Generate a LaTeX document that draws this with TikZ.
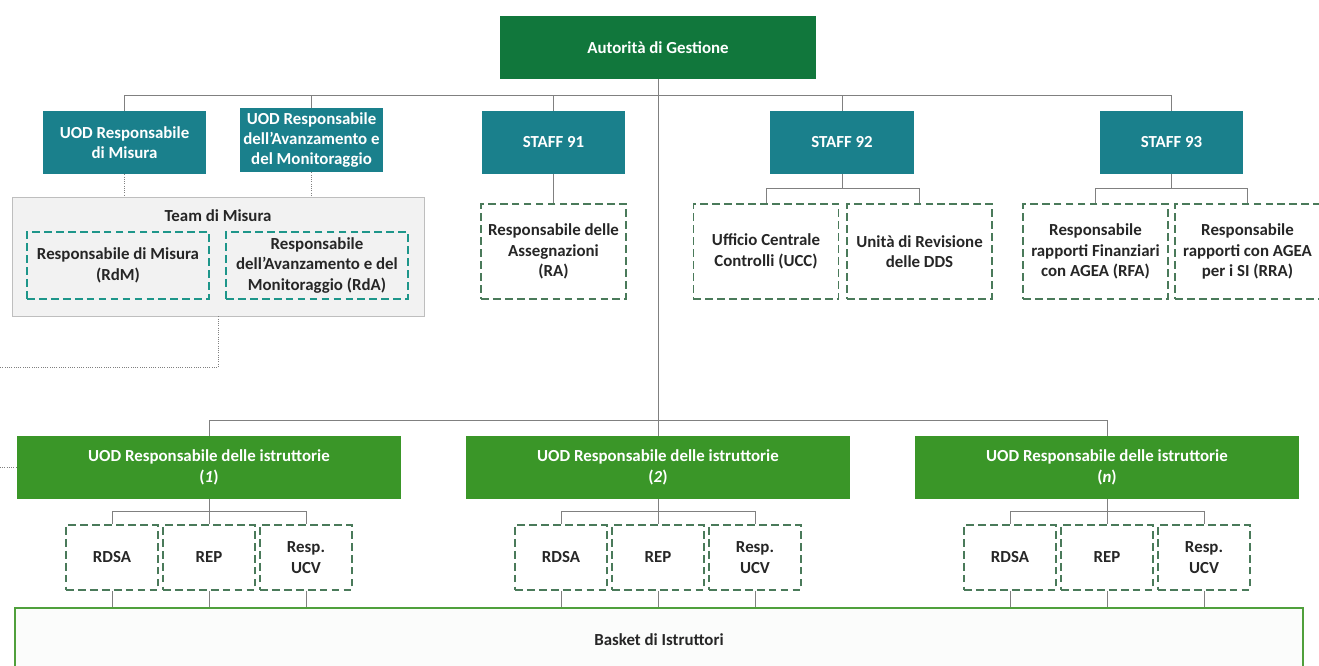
\documentclass[tikz,border=0pt]{standalone}
\usepackage{fontspec}
\setmainfont{Carlito}
\usetikzlibrary{positioning}
\definecolor{agGreen}{RGB}{17,119,60}
\definecolor{uodTeal}{RGB}{26,128,140}
\definecolor{istrGreen}{RGB}{58,150,40}
\definecolor{staffDash}{RGB}{74,122,90}
\definecolor{teamDash}{RGB}{30,150,138}
\definecolor{teamFill}{RGB}{242,242,242}
\definecolor{teamGray}{RGB}{190,190,190}
\definecolor{basketGreen}{RGB}{80,160,60}
\definecolor{basketFill}{RGB}{251,252,251}
\definecolor{linkGray}{RGB}{128,128,128}
\definecolor{txtDark}{RGB}{38,38,38}

\begin{document}
\begin{tikzpicture}[x=0.025cm, y=-0.025cm,
    font=\bfseries\fontsize{12}{14.5}\selectfont, text=txtDark,
    boss/.style={fill=agGreen, text=white, minimum width=7.875cm, minimum height=1.575cm},
    uodbox/.style={fill=uodTeal, text=white, align=center, inner sep=2pt, minimum width=3.575cm, minimum height=1.575cm},
    teambox/.style={draw=teamGray, fill=teamFill, minimum width=10.3cm, minimum height=2.975cm},
    dashbox/.style={line width=1.2pt, dash pattern=on 5.5pt off 3pt, align=center, inner sep=2pt},
    teamdash/.style={dashbox, draw=teamDash, minimum width=4.55cm, minimum height=1.675cm},
    staffdash/.style={dashbox, draw=staffDash, minimum width=3.625cm, minimum height=2.375cm},
    istrbox/.style={fill=istrGreen, text=white, align=center, inner sep=2pt, minimum width=9.6cm, minimum height=1.575cm},
    istrdash/.style={dashbox, draw=staffDash, minimum width=2.3cm, minimum height=1.625cm},
    basketbox/.style={draw=basketGreen, line width=1.2pt, fill=basketFill, minimum width=32.2cm, minimum height=1.6cm},
    link/.style={draw=linkGray, line width=0.6pt},
    dotlink/.style={draw=linkGray, line width=0.6pt, densely dotted}]
  \useasboundingbox (0,0) rectangle (1319,665);

  % vertice
  \node[boss] (adg) at (658,47.5) {Autorità di Gestione};

  % UOD e staff
  \node[uodbox, minimum width=4.075cm] (uodmis) at (124.5,142.5) {UOD Responsabile\\di Misura};
  \node[uodbox, minimum height=1.6cm] (uodavz) at (311.5,140) {UOD Responsabile\\dell’Avanzamento e\\del Monitoraggio};
  \node[uodbox] (staff91) at (553.5,142.5) {STAFF 91};
  \node[uodbox] (staff92) at (842,142.5) {STAFF 92};
  \node[uodbox] (staff93) at (1171.5,142.5) {STAFF 93};

  % team di misura
  \node[teambox, label={[anchor=north, yshift=-5.5pt, text=txtDark]north:Team di Misura}] (team) at (218,256.5) {};
  \node[teamdash] (rdm) at (118,265.5) {Responsabile di Misura\\(RdM)};
  \node[teamdash] (rda) at (317,265.5) {Responsabile\\dell’Avanzamento e del\\Monitoraggio (RdA)};

  % responsabili degli staff
  \node[staffdash] (ra) at (553.5,251.5) {Responsabile delle\\Assegnazioni\\(RA)};
  \node[staffdash] (ucc) at (766,251.5) {Ufficio Centrale\\Controlli (UCC)};
  \node[staffdash] (dds) at (919.5,251.5) {Unità di Revisione\\delle DDS};
  \node[staffdash] (rfa) at (1095.5,251.5) {Responsabile\\rapporti Finanziari\\con AGEA (RFA)};
  \node[staffdash] (rra) at (1247.5,251.5) {Responsabile\\rapporti con AGEA\\per i SI (RRA)};

  % UOD istruttorie
  \node[istrbox] (istr1) at (209,467.5) {UOD Responsabile delle istruttorie\\(\textit{1})};
  \node[istrbox] (istr2) at (658,467.5) {UOD Responsabile delle istruttorie\\(\textit{2})};
  \node[istrbox] (istr3) at (1107,467.5) {UOD Responsabile delle istruttorie\\(\textit{n})};

  \node[istrdash] (rdsa1) at (112,557.5) {RDSA};
  \node[istrdash] (rep1) at (209,557.5) {REP};
  \node[istrdash] (ucv1) at (306,557.5) {Resp.\\UCV};
  \node[istrdash] (rdsa2) at (561,557.5) {RDSA};
  \node[istrdash] (rep2) at (658,557.5) {REP};
  \node[istrdash] (ucv2) at (755,557.5) {Resp.\\UCV};
  \node[istrdash] (rdsa3) at (1010,557.5) {RDSA};
  \node[istrdash] (rep3) at (1107,557.5) {REP};
  \node[istrdash] (ucv3) at (1204,557.5) {Resp.\\UCV};

  \node[basketbox] (basket) at (659,640) {Basket di Istruttori};

  % collegamenti
  \coordinate (bustop) at (658,95);
  \coordinate (buslow) at (658,420);
  \draw[link] (adg) -- (istr2);
  \draw[link] (uodmis.north |- bustop) -- (staff93.north |- bustop);
  \draw[link] (uodmis) -- (uodmis |- bustop);
  \draw[link] (uodavz) -- (uodavz |- bustop);
  \draw[link] (staff91) -- (staff91 |- bustop);
  \draw[link] (staff92) -- (staff92 |- bustop);
  \draw[link] (staff93) -- (staff93 |- bustop);

  \draw[link] (staff91) -- (ra);
  \draw[link] (staff92.south) -- ++(0,15);
  \draw[link] (ucc.north) -- ++(0,-15) -| (dds.north);
  \draw[link] (staff93.south) -- ++(0,15);
  \draw[link] (rfa.north) -- ++(0,-15) -| (rra.north);

  \draw[dotlink] (uodmis) -- (uodmis |- team.north);
  \draw[dotlink] (uodavz) -- (uodavz |- team.north);
  \coordinate (offa) at (0,367);
  \coordinate (offb) at (0,467.5);
  \draw[dotlink] (team.south) |- (offa);
  \draw[dotlink] (offb) -- (istr1.west);

  \draw[link] (istr1.north |- buslow) -- (istr3.north |- buslow);
  \draw[link] (istr1) -- (istr1 |- buslow);
  \draw[link] (istr3) -- (istr3 |- buslow);

  \draw[link] (istr1) -- (rep1);
  \draw[link] (rdsa1.north) -- ++(0,-13) -| (ucv1.north);
  \draw[link] (istr2) -- (rep2);
  \draw[link] (rdsa2.north) -- ++(0,-13) -| (ucv2.north);
  \draw[link] (istr3) -- (rep3);
  \draw[link] (rdsa3.north) -- ++(0,-13) -| (ucv3.north);

  \draw[link] (rdsa1) -- (rdsa1 |- basket.north);
  \draw[link] (rep1) -- (rep1 |- basket.north);
  \draw[link] (ucv1) -- (ucv1 |- basket.north);
  \draw[link] (rdsa2) -- (rdsa2 |- basket.north);
  \draw[link] (rep2) -- (rep2 |- basket.north);
  \draw[link] (ucv2) -- (ucv2 |- basket.north);
  \draw[link] (rdsa3) -- (rdsa3 |- basket.north);
  \draw[link] (rep3) -- (rep3 |- basket.north);
  \draw[link] (ucv3) -- (ucv3 |- basket.north);
\end{tikzpicture}
\end{document}
